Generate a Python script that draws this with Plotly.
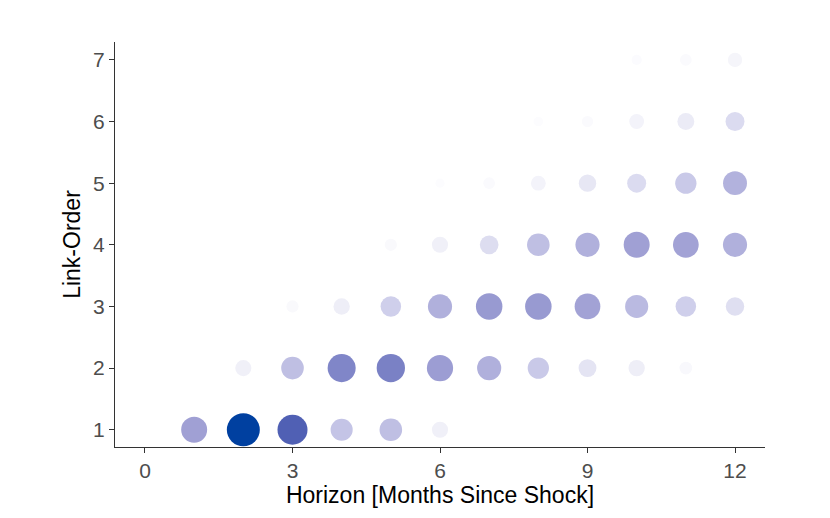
import plotly.graph_objects as go

# horizon (months since shock) for each link-order row, with estimated weights (0-1)
horizon_1 = [1, 2, 3, 4, 5, 6]
weight_1 = [0.73, 1.00, 0.885, 0.58, 0.60, 0.35]

horizon_2 = [2, 3, 4, 5, 6, 7, 8, 9, 10, 11]
weight_2 = [0.35, 0.60, 0.81, 0.82, 0.74, 0.66, 0.55, 0.42, 0.36, 0.22]

horizon_3 = [3, 4, 5, 6, 7, 8, 9, 10, 11, 12]
weight_3 = [0.20, 0.36, 0.52, 0.66, 0.75, 0.75, 0.72, 0.62, 0.52, 0.44]

horizon_4 = [5, 6, 7, 8, 9, 10, 11, 12]
weight_4 = [0.20, 0.35, 0.45, 0.60, 0.66, 0.73, 0.72, 0.66]

horizon_5 = [6, 7, 8, 9, 10, 11, 12]
weight_5 = [0.08, 0.18, 0.30, 0.40, 0.46, 0.55, 0.65]

horizon_6 = [8, 9, 10, 11, 12]
weight_6 = [0.10, 0.16, 0.30, 0.38, 0.46]

horizon_7 = [10, 11, 12]
weight_7 = [0.12, 0.18, 0.28]

rows = [(1, horizon_1, weight_1), (2, horizon_2, weight_2), (3, horizon_3, weight_3),
        (4, horizon_4, weight_4), (5, horizon_5, weight_5), (6, horizon_6, weight_6),
        (7, horizon_7, weight_7)]

xs, ys, ws = [], [], []
for order, hz, wt in rows:
    xs += hz
    ys += [order] * len(hz)
    ws += wt

scale = [[0.0, "#fefeff"], [0.1, "#fcfcfe"], [0.23, "#f8f8fc"], [0.35, "#f0f0f8"],
         [0.42, "#e4e4f3"], [0.5, "#d2d2ec"], [0.58, "#c4c4e6"], [0.65, "#b2b2dd"],
         [0.73, "#a0a0d4"], [0.81, "#8086c8"], [0.885, "#5060b4"], [1.0, "#0040a0"]]

fig = go.Figure(go.Scatter(
    x=xs, y=ys, mode="markers",
    marker=dict(size=[7 + 26 * w for w in ws], color=ws, colorscale=scale,
                cmin=0, cmax=1, line=dict(width=0), opacity=1),
    hoverinfo="x+y",
))

axis_common = dict(
    showgrid=False, zeroline=False, showline=True, linecolor="#333333", linewidth=1,
    ticks="outside", ticklen=5, tickcolor="#333333",
    tickfont=dict(family="Liberation Sans, Arial", size=21, color="#4d4d4d"),
)

# page body has an 8px margin, so the margins are shifted by 8px
fig.update_layout(
    width=830, height=518,
    margin=dict(l=107, r=73, t=34, b=79),
    plot_bgcolor="white", paper_bgcolor="white",
    showlegend=False,
    xaxis=dict(axis_common, range=[-0.61, 12.61], tickvals=[0, 3, 6, 9, 12],
               title=dict(text="Horizon [Months Since Shock]", standoff=3,
                          font=dict(family="Liberation Sans, Arial", size=23, color="black"))),
    yaxis=dict(axis_common, range=[0.72, 7.29], tickvals=[1, 2, 3, 4, 5, 6, 7],
               title=dict(text="Link-Order", standoff=6,
                          font=dict(family="Liberation Sans, Arial", size=23, color="black"))),
)

fig.write_html("out.html")
